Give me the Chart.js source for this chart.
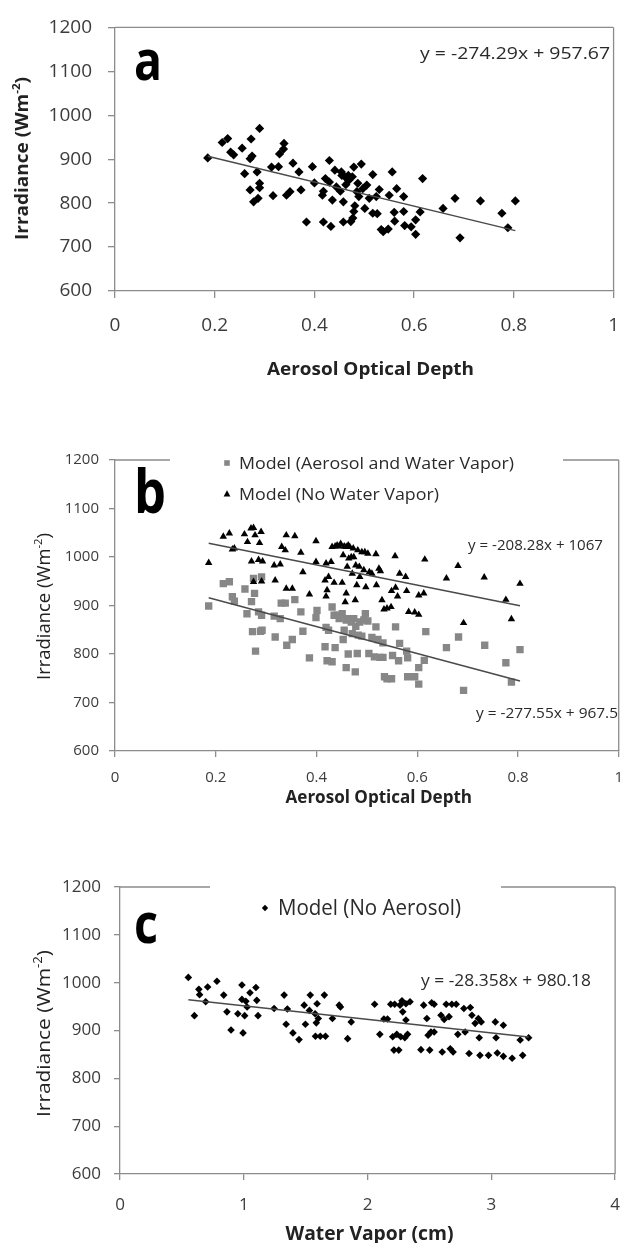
<!DOCTYPE html>
<html><head><meta charset="utf-8">
<script src="https://cdn.jsdelivr.net/npm/chart.js@4.4.1/dist/chart.umd.min.js"></script>
<style>
html,body{margin:0;padding:0;background:#fff;}
body{width:635px;height:1243px;position:relative;overflow:hidden;}
canvas{position:absolute;left:0;}
</style></head><body>
<canvas id="ca" width="635" height="395" style="top:0px"></canvas>
<canvas id="cb" width="635" height="425" style="top:395px"></canvas>
<canvas id="cc" width="635" height="423" style="top:820px"></canvas>
<script>
// ---------- DATA ----------
// Panel a: measured irradiance vs aerosol optical depth
const aAod = [0.186,0.215,0.226,0.232,0.238,0.255,0.260,0.273,0.271,0.275,
  0.271,0.278,0.285,0.287,0.290,0.290,0.290,0.314,0.317,0.328,
  0.330,0.338,0.339,0.344,0.351,0.357,0.369,0.373,0.384,0.396,
  0.400,0.418,0.416,0.418,0.422,0.430,0.430,0.433,0.436,0.441,
  0.444,0.452,0.454,0.455,0.458,0.458,0.461,0.463,0.468,0.469,
  0.473,0.476,0.479,0.477,0.479,0.481,0.485,0.487,0.489,0.494,
  0.497,0.501,0.505,0.510,0.517,0.517,0.524,0.526,0.530,0.534,
  0.538,0.548,0.550,0.556,0.560,0.561,0.565,0.579,0.579,0.581,
  0.594,0.603,0.603,0.612,0.617,0.658,0.682,0.692,0.733,0.776,
  0.788,0.803];
const aIrr = [903,938,947,916,910,925,867,946,901,907,
  830,803,871,811,970,845,835,882,817,883,
  912,923,936,818,826,891,871,830,757,883,
  846,757,818,827,856,897,848,747,807,875,
  837,827,871,863,757,803,860,842,863,852,
  758,860,882,766,781,794,826,845,815,889,
  833,788,841,811,865,777,815,776,831,740,
  735,741,818,871,779,759,833,815,781,749,
  746,729,762,780,856,788,811,721,805,777,
  744,805];
const aTrendX = [0.186, 0.803];
const aTrendY = [906.6, 737.4];
const aEquation = 'y = -274.29x + 957.67';

// Panel b: model with aerosol and water vapor (squares)
const bSqAod = [0.186,0.215,0.227,0.233,0.237,0.258,0.262,0.271,0.277,0.273,
  0.279,0.275,0.285,0.289,0.291,0.291,0.292,0.316,0.318,0.328,
  0.330,0.338,0.341,0.352,0.357,0.369,0.373,0.386,0.399,0.401,
  0.417,0.419,0.421,0.424,0.431,0.431,0.435,0.437,0.441,0.445,
  0.451,0.453,0.455,0.459,0.459,0.463,0.464,0.469,0.471,0.474,
  0.477,0.478,0.481,0.483,0.486,0.490,0.494,0.497,0.502,0.504,
  0.510,0.515,0.518,0.522,0.526,0.532,0.532,0.535,0.540,0.549,
  0.551,0.557,0.563,0.565,0.579,0.581,0.581,0.595,0.603,0.603,
  0.614,0.617,0.658,0.682,0.692,0.734,0.776,0.787,0.804];
const bSqIrr = [899,945,949,918,909,934,883,908,925,846,
  806,956,887,847,959,880,849,878,835,873,
  905,905,818,830,912,887,847,792,875,890,
  815,855,786,849,784,897,880,813,880,873,
  883,830,849,870,772,800,873,866,842,873,
  763,857,801,839,866,837,870,883,868,801,
  834,794,856,830,793,823,793,753,749,749,
  797,856,786,822,806,792,753,753,772,738,
  787,846,813,835,725,818,782,742,809];
// Panel b: model with no water vapor (triangles)
const bTrAod = [0.186,0.215,0.227,0.233,0.237,0.257,0.263,0.270,0.275,0.271,
  0.278,0.275,0.285,0.287,0.290,0.291,0.293,0.316,0.318,0.328,
  0.331,0.338,0.340,0.340,0.352,0.357,0.369,0.373,0.386,0.399,
  0.399,0.417,0.419,0.419,0.421,0.424,0.429,0.431,0.435,0.437,
  0.441,0.445,0.448,0.451,0.453,0.455,0.457,0.459,0.459,0.461,
  0.463,0.464,0.466,0.469,0.471,0.473,0.474,0.477,0.478,0.480,
  0.482,0.485,0.486,0.490,0.494,0.496,0.498,0.502,0.505,0.510,
  0.518,0.519,0.524,0.527,0.530,0.534,0.540,0.548,0.549,0.556,
  0.557,0.561,0.565,0.577,0.579,0.583,0.595,0.603,0.603,0.613,
  0.615,0.658,0.681,0.692,0.733,0.776,0.787,0.804];
const bTrIrr = [988,1042,1049,1016,1018,1047,1031,1059,1060,991,
  1045,949,994,1029,1052,950,991,983,952,985,
  1021,1014,1045,935,935,1043,1009,969,923,1033,
  990,952,987,919,932,959,990,1021,947,1022,
  1024,1022,1027,947,1004,1022,907,925,1021,980,
  1024,997,1021,1000,966,1018,1000,911,983,942,
  1014,980,959,1010,973,1010,938,1007,969,966,
  1006,942,976,971,911,892,894,897,930,1002,
  937,919,966,959,930,887,886,881,921,925,
  995,956,982,864,958,912,872,945];
const bTrendUpX = [0.186, 0.804];
const bTrendUpY = [1028.3, 899.5];
const bTrendLoX = [0.186, 0.804];
const bTrendLoY = [915.9, 744.3];
const bEquationUp = 'y = -208.28x + 1067';
const bEquationLo = 'y = -277.55x + 967.5';
const bLegend = ['Model (Aerosol and Water Vapor)', 'Model (No Water Vapor)'];

// Panel c: model with no aerosol vs water vapor
const cWv = [0.552,0.601,0.637,0.643,0.692,0.708,0.783,0.838,0.864,0.897,
  0.952,0.985,0.985,0.994,1.007,1.017,1.027,1.050,1.098,1.105,
  1.115,1.245,1.326,1.342,1.352,1.397,1.446,1.488,1.498,1.530,
  1.537,1.576,1.586,1.592,1.602,1.579,1.618,1.651,1.660,1.716,
  1.771,1.781,1.839,1.868,2.057,2.099,2.132,2.161,2.187,2.203,
  2.213,2.219,2.236,2.252,2.262,2.268,2.278,2.284,2.301,2.310,
  2.310,2.323,2.343,2.431,2.453,2.479,2.489,2.502,2.512,2.518,
  2.538,2.538,2.593,2.603,2.619,2.635,2.658,2.668,2.681,2.691,
  2.716,2.729,2.778,2.788,2.820,2.830,2.843,2.869,2.895,2.902,
  2.908,2.918,2.977,3.032,3.038,3.048,3.097,3.097,3.168,3.233,
  3.253,3.301];
const cIrr = [1011,931,986,975,960,991,1003,974,939,901,
  935,995,965,895,931,961,949,979,990,963,
  931,946,974,913,945,895,881,953,913,942,
  974,935,916,956,925,888,888,974,888,925,
  953,949,883,918,955,892,924,924,955,887,
  859,955,892,859,953,887,962,939,885,956,
  922,892,960,860,953,925,890,859,897,958,
  955,897,932,855,923,955,929,862,955,855,
  955,892,946,897,852,948,932,915,925,885,
  848,918,848,918,885,853,911,846,842,880,
  848,885];
const cTrendX = [0.552, 3.301];
const cTrendY = [964.5, 886.6];
const cEquation = 'y = -28.358x + 980.18';
const cLegend = ['Model (No Aerosol)'];

// ticks
const yTickVals = [600,700,800,900,1000,1100,1200];
const yTickLabels = ['600','700','800','900','1000','1100','1200'];
const aodTickVals = [0,0.2,0.4,0.6,0.8,1];
const aodTickLabels = ['0','0.2','0.4','0.6','0.8','1'];
const wvTickVals = [0,1,2,3,4];
const wvTickLabels = ['0','1','2','3','4'];
const xTitleAod = 'Aerosol Optical Depth';
const xTitleWv = 'Water Vapor (cm)';
const yTitleMain = 'Irradiance (Wm';
const yTitleSup = '-2';

// ---------- HELPERS ----------
const FF = '"Open Sans", "Liberation Sans", sans-serif';
function pts(xs, ys){ return xs.map((x,i)=>({x:x, y:ys[i]})); }
function lookup(vals, labels){
  return function(v){ const i = vals.findIndex(t=>Math.abs(t-v)<1e-6); return i>=0 ? labels[i] : ''; };
}
function fitText(ctx, segs, x, y, width, align, color){
  ctx.save();
  let total = 0; const ws = [];
  segs.forEach(s=>{ ctx.font = s.font; const w = ctx.measureText(s.t).width; ws.push(w); total += w; });
  const sc = width ? width/total : 1;
  ctx.translate(x, y);
  ctx.scale(sc, 1);
  let cx = align === 'center' ? -total/2 : 0;
  ctx.fillStyle = color; ctx.textBaseline = 'alphabetic'; ctx.textAlign = 'left';
  segs.forEach((s,i)=>{ ctx.font = s.font; ctx.fillText(s.t, cx, s.dy||0); cx += ws[i]; });
  ctx.restore();
}
function rotText(ctx, segs, bx, cy, width, color){
  ctx.save();
  ctx.translate(bx, cy);
  ctx.rotate(-Math.PI/2);
  fitText(ctx, segs, 0, 0, width, 'center', color);
  ctx.restore();
}
function marker(ctx, style, x, y, r, color){
  ctx.save(); ctx.fillStyle = color; ctx.beginPath();
  if (style === 'rect') { ctx.rect(x-r, y-r, 2*r, 2*r); }
  else if (style === 'triangle') { ctx.moveTo(x, y-r*1.1); ctx.lineTo(x+r, y+r*0.7); ctx.lineTo(x-r, y+r*0.7); ctx.closePath(); }
  else { ctx.moveTo(x, y-r); ctx.lineTo(x+r, y); ctx.lineTo(x, y+r); ctx.lineTo(x-r, y); ctx.closePath(); }
  ctx.fill(); ctx.restore();
}

const AXIS = '#8c8c8c';
const TICKC = '#3c3c3c';

function makeScales(o){
  return {
    x: { type:'linear', min:o.xmin, max:o.xmax,
      ticks:{ stepSize:o.xstep, autoSkip:false, maxRotation:0, padding:o.xPad, color:TICKC,
        font:{family:FF, size:o.tickSize}, callback: lookup(o.xVals, o.xLabels) },
      grid:{ drawOnChartArea:false, drawTicks:true, tickLength:o.tickLen, color:AXIS, lineWidth:1.3 },
      border:{ display:true, color:AXIS, width:1.3 },
      afterFit(s){ s.height = o.xH; } },
    y: { type:'linear', min:600, max:1200,
      ticks:{ stepSize:100, autoSkip:false, padding:o.yPad, color:TICKC,
        font:{family:FF, size:o.tickSize}, callback: lookup(yTickVals, yTickLabels) },
      grid:{ drawOnChartArea:false, drawTicks:true, tickLength:o.tickLen, color:AXIS, lineWidth:1.3 },
      border:{ display:true, color:AXIS, width:1.3 },
      afterFit(s){ s.width = o.yW; } }
  };
}

function boxPlugin(gap){
  return { id:'box', afterDraw(chart){
    const ctx = chart.ctx, a = chart.chartArea;
    ctx.save(); ctx.strokeStyle = AXIS; ctx.lineWidth = 1.3; ctx.beginPath();
    if (gap) {
      ctx.moveTo(a.left, a.top); ctx.lineTo(gap[0], a.top);
      ctx.moveTo(gap[1], a.top); ctx.lineTo(a.right, a.top);
    } else { ctx.moveTo(a.left, a.top); ctx.lineTo(a.right, a.top); }
    ctx.moveTo(a.right, a.top); ctx.lineTo(a.right, a.bottom);
    ctx.stroke(); ctx.restore();
  }};
}

function trendDs(xs, ys){
  return { type:'line', data: pts(xs, ys), borderColor:'#4a4a4a', borderWidth:1.5,
    pointRadius:0, fill:false, tension:0, order:0 };
}

const common = { responsive:false, animation:false, events:[], devicePixelRatio:1,
  plugins:{ legend:{display:false}, tooltip:{enabled:false} } };

// ---------- PANEL A ----------
new Chart(document.getElementById('ca'), {
  type:'scatter',
  data:{ datasets:[
    trendDs(aTrendX, aTrendY),
    { data: pts(aAod, aIrr), pointStyle:'rectRot', pointRadius:4.6, backgroundColor:'#000', borderWidth:0, order:1 }
  ]},
  options: Object.assign({}, common, {
    layout:{ padding:{ left:0, top:23, right:5, bottom:395-291-60 } },
    scales: makeScales({ xmin:0, xmax:1, xstep:0.2, xVals:aodTickVals, xLabels:aodTickLabels,
      tickSize:19, tickLen:7, xPad:16, yPad:16, xH:60, yW:115 })
  }),
  plugins:[ boxPlugin(null), { id:'txtA', afterDraw(chart){
    const ctx = chart.ctx;
    fitText(ctx, [{t:'a', font:'bold 55px '+FF}], 134, 80, 28, 'left', '#000');
    fitText(ctx, [{t:aEquation, font:'15.5px '+FF}], 420, 59, 190, 'left', '#2a2a2a');
    rotText(ctx, [{t:yTitleMain, font:'bold 18px '+FF},{t:yTitleSup, font:'bold 11px '+FF, dy:-8},{t:')', font:'bold 18px '+FF}], 28, 158.5, 163, '#222');
    fitText(ctx, [{t:xTitleAod, font:'bold 18px '+FF}], 370.5, 375, 207, 'center', '#222');
  }}]
});

// ---------- PANEL B ----------
new Chart(document.getElementById('cb'), {
  type:'scatter',
  data:{ datasets:[
    trendDs(bTrendUpX, bTrendUpY),
    trendDs(bTrendLoX, bTrendLoY),
    { data: pts(bTrAod, bTrIrr), pointStyle:'triangle', pointRadius:4.3, backgroundColor:'#000', borderWidth:0, order:1 },
    { data: pts(bSqAod, bSqIrr), pointStyle:'rect', pointRadius:5.2, backgroundColor:'#878787', borderWidth:0, order:2 }
  ]},
  options: Object.assign({}, common, {
    layout:{ padding:{ left:0, top:65, right:7, bottom:425-356-40 } },
    scales: makeScales({ xmin:0, xmax:1, xstep:0.2, xVals:aodTickVals, xLabels:aodTickLabels,
      tickSize:15, tickLen:6, xPad:12, yPad:10, xH:40, yW:115 })
  }),
  plugins:[ boxPlugin([170, 563]), { id:'txtB', afterDraw(chart){
    const ctx = chart.ctx;
    fitText(ctx, [{t:'b', font:'bold 60px '+FF}], 134, 118, 32, 'left', '#000');
    marker(ctx, 'rect', 227, 68, 2.8, '#878787');
    fitText(ctx, [{t:bLegend[0], font:'17px '+FF}], 239, 74, 275, 'left', '#2a2a2a');
    marker(ctx, 'triangle', 227, 99, 3.4, '#000');
    fitText(ctx, [{t:bLegend[1], font:'17px '+FF}], 239, 105, 200, 'left', '#2a2a2a');
    fitText(ctx, [{t:bEquationUp, font:'14px '+FF}], 468, 155, 135, 'left', '#2a2a2a');
    fitText(ctx, [{t:bEquationLo, font:'14px '+FF}], 476, 323, 142, 'left', '#2a2a2a');
    rotText(ctx, [{t:yTitleMain, font:'18px '+FF},{t:yTitleSup, font:'11px '+FF, dy:-8},{t:')', font:'18px '+FF}], 50, 211.5, 147, '#222');
    fitText(ctx, [{t:xTitleAod, font:'bold 18px '+FF}], 378.8, 408, 186.5, 'center', '#222');
  }}]
});

// ---------- PANEL C ----------
new Chart(document.getElementById('cc'), {
  type:'scatter',
  data:{ datasets:[
    trendDs(cTrendX, cTrendY),
    { data: pts(cWv, cIrr), pointStyle:'rectRot', pointRadius:3.8, backgroundColor:'#000', borderWidth:0, order:1 }
  ]},
  options: Object.assign({}, common, {
    layout:{ padding:{ left:0, top:67, right:16, bottom:423-354-40 } },
    scales: makeScales({ xmin:0, xmax:4, xstep:1, xVals:wvTickVals, xLabels:wvTickLabels,
      tickSize:17, tickLen:6, xPad:15, yPad:13, xH:40, yW:120 })
  }),
  plugins:[ boxPlugin([210, 501]), { id:'txtC', afterDraw(chart){
    const ctx = chart.ctx;
    fitText(ctx, [{t:'c', font:'bold 55px '+FF}], 134, 123, 24, 'left', '#000');
    marker(ctx, 'diamond', 265, 88, 3.2, '#000');
    fitText(ctx, [{t:cLegend[0], font:'21px '+FF}], 278, 95, 183, 'left', '#2a2a2a');
    fitText(ctx, [{t:cEquation, font:'16.5px '+FF}], 421, 166, 170, 'left', '#2a2a2a');
    rotText(ctx, [{t:yTitleMain, font:'19px '+FF},{t:yTitleSup, font:'12px '+FF, dy:-8},{t:')', font:'19px '+FF}], 50, 213.5, 167, '#222');
    fitText(ctx, [{t:xTitleWv, font:'bold 20px '+FF}], 369.5, 420, 168, 'center', '#222');
  }}]
});
</script>
</body></html>
